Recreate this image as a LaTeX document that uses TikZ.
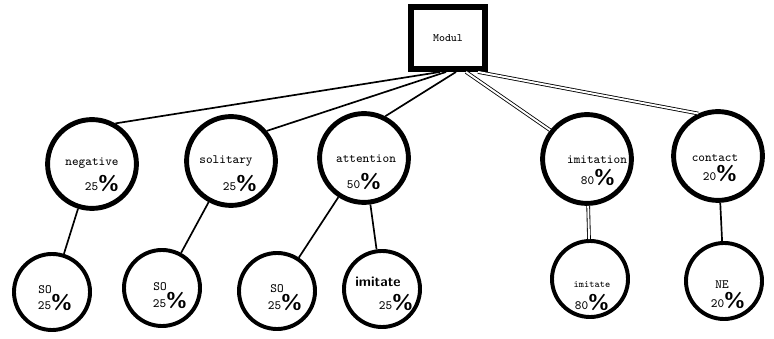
\documentclass[tikz,border=0pt]{standalone}
\usepackage{tikz}
\usetikzlibrary{calc}
\newcommand{\bigpct}{{\sffamily\bfseries\Large\%}}

\begin{document}
\begin{tikzpicture}[x=0.025cm,y=-0.025cm,
  topnode/.style={circle,draw,line width=3.5pt,minimum size=2.22cm,inner sep=0pt},
  leafnode/.style={circle,draw,line width=2.8pt,minimum size=1.9cm,inner sep=0pt},
  lbl/.style={font=\ttfamily\small,inner sep=0pt},
  link/.style={line width=1.2pt},
  dlink/.style={double,line width=0.6pt,double distance=1.4pt}]
\useasboundingbox (0,0) rectangle (774,339);

% root box
\node[draw,line width=4.2pt,minimum width=1.85cm,minimum height=1.55cm,font=\ttfamily\footnotesize] (modul) at (448,38) {Modul};

% first row
\node[topnode] (neg) at (92,164) {};
\node[topnode] (sol) at (231,161) {};
\node[topnode] (att) at (364,158) {};
\node[topnode] (imi) at (587,159) {};
\node[topnode] (con) at (718,156) {};

\node[lbl] (negtxt) at (92,163) {negative};
\node[lbl] (negpc) at (102,183) {25\bigpct};
\node[lbl] (soltxt) at (226,161) {solitary};
\node[lbl] (solpc) at (240,183) {25\bigpct};
\node[lbl] (atttxt) at (366,159) {attention};
\node[lbl] (attpc) at (364,181) {50\bigpct};
\node[lbl] (imitxt) at (597,160) {imitation};
\node[lbl] (imipc) at (598,177) {80\bigpct};
\node[lbl] (contxt) at (715,158) {contact};
\node[lbl] (conpc) at (720,173) {20\bigpct};

% second row
\node[leafnode] (so1) at (52,292) {};
\node[leafnode] (so2) at (162,288) {};
\node[leafnode] (so3) at (277,291) {};
\node[leafnode] (imt) at (382,289) {};
\node[leafnode] (imt2) at (590,279) {};
\node[leafnode] (ne) at (724,281) {};

\node[lbl] (so1a) at (45,290) {SO};
\node[lbl] (so1b) at (55,302) {25\bigpct};
\node[lbl] (so2a) at (160,287) {SO};
\node[lbl] (so2b) at (170,300) {25\bigpct};
\node[lbl] (so3a) at (277,289) {SO};
\node[lbl] (so3b) at (285,302) {25\bigpct};
\node[lbl,font=\sffamily\bfseries] (imta) at (378,282) {imitate};
\node[lbl] (imtb) at (396,302) {25\bigpct};
\node[lbl,font=\ttfamily\scriptsize] (imt2a) at (592,285) {imitate};
\node[lbl] (imt2b) at (592,302) {80\bigpct};
\node[lbl] (nea) at (722,285) {NE};
\node[lbl] (neb) at (728,300) {20\bigpct};

% links from the box
\coordinate (m1) at ($(modul.south)+(-8,0)$);
\coordinate (m2) at ($(modul.south)+(-2,0)$);
\coordinate (m3) at ($(modul.south)+(8,0)$);
\coordinate (m4) at ($(modul.south)+(18,0)$);
\coordinate (m5) at ($(modul.south)+(30,0)$);
\draw[link] (m1) -- (neg.60);
\draw[link] (m2) -- (sol.40);
\draw[link] (m3) -- (att.63);
\draw[dlink] (m4) -- (imi.142);
\draw[dlink] (m5) -- (con.115);

% links to the leaves
\draw[link] (neg) -- (so1);
\draw[link] (sol) -- (so2);
\draw[link] (att) -- (so3);
\draw[link] (att) -- (imt);
\draw[dlink] (imi) -- (imt2);
\draw[link] (con) -- (ne);
\end{tikzpicture}
\end{document}
